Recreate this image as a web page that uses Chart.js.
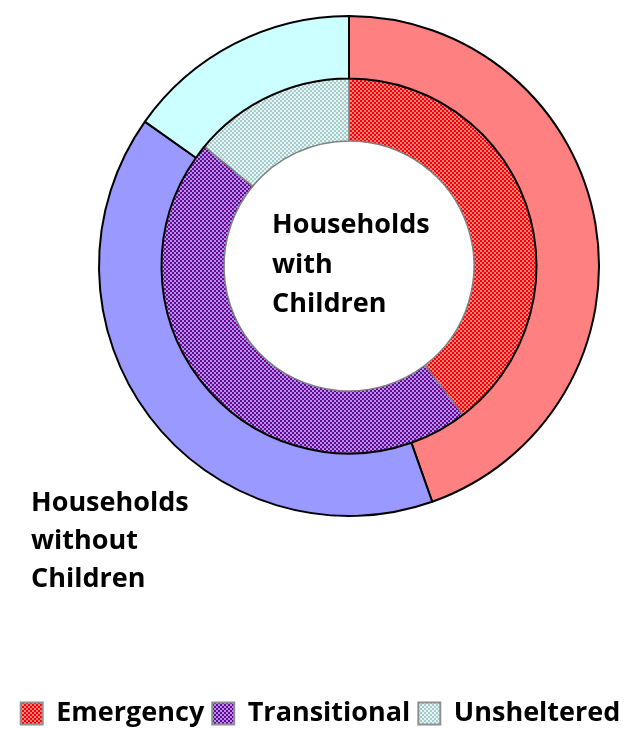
<!DOCTYPE html>
<html>
<head>
<meta charset="utf-8">
<script src="https://cdn.jsdelivr.net/npm/chart.js@4"></script>
<style>
  html, body { margin: 0; padding: 0; background: #fff; }
  #wrap { width: 641px; height: 729px; }
</style>
</head>
<body>
<div id="wrap"><canvas id="myDoughnut"></canvas></div>
<script>
// data (shares in %)
var categories = ["Emergency", "Transitional", "Unsheltered"];
var withoutChildren = [44.6, 40.2, 15.2];
var withChildren = [39.6, 46.4, 14.0];
var ringLabels = ["Households with Children", "Households without Children"];

// checker fill like the old office patterns
function checker(bg, fg) {
    var c = document.createElement('canvas');
    c.width = 4; c.height = 4;
    var g = c.getContext('2d');
    g.fillStyle = bg;
    g.fillRect(0, 0, 4, 4);
    g.fillStyle = fg;
    g.fillRect(0, 0, 2, 2);
    g.fillRect(2, 2, 2, 2);
    return g.createPattern(c, 'repeat');
}

var solidColors = ['#FF8080', '#9999FF', '#CCFFFF'];
var patternColors = [
    checker('#FF8080', '#FF0000'),
    checker('#9999FF', '#800080'),
    checker('#CCFFFF', '#C0C0C0')
];

// put the rings where they sit in the picture, legend keeps full width
var placeRings = {
    id: 'placeRings',
    afterLayout: function (chart) {
        var a = chart.chartArea;
        a.left = 98; a.right = 600;
        a.top = 15; a.bottom = 517;
        a.width = 502; a.height = 502;
        var lg = chart.legend;
        var shift = 729 - lg.bottom + 8;
        lg.top += shift; lg.bottom += shift;
    }
};

var ringText = {
    id: 'ringText',
    afterDraw: function (chart) {
        var ctx = chart.ctx;
        ctx.save();
        ctx.fillStyle = '#000';
        ctx.font = 'bold 27px "Open Sans"';
        ctx.textBaseline = 'alphabetic';
        ctx.textAlign = 'left';
        ["Households", "with", "Children"].forEach(function (t, i) {
            ctx.fillText(t, 272, 233 + i * 39.5);
        });
        ["Households", "without", "Children"].forEach(function (t, i) {
            ctx.fillText(t, 31, 511 + i * 38);
        });
        ctx.restore();
    }
};

var ctxD = document.getElementById("myDoughnut").getContext('2d');
var myDoughnut = new Chart(ctxD, {
    type: 'doughnut',
    data: {
        labels: categories,
        datasets: [{
            label: ringLabels[1],
            data: withoutChildren,
            backgroundColor: solidColors,
            borderColor: '#000',
            borderWidth: 2
        }, {
            label: ringLabels[0],
            data: withChildren,
            backgroundColor: patternColors,
            borderColor: '#808080',
            borderWidth: 1.5
        }]
    },
    options: {
        responsive: true,
        maintainAspectRatio: false,
        animation: false,
        cutout: '50%',
        plugins: {
            tooltip: { enabled: false },
            legend: {
                position: 'bottom',
                labels: {
                    color: '#000',
                    font: { family: 'Open Sans', size: 27, weight: 'bold' },
                    boxWidth: 22,
                    boxHeight: 22,
                    padding: 8,
                    generateLabels: function (chart) {
                        return categories.map(function (name, i) {
                            return {
                                text: name,
                                fillStyle: patternColors[i],
                                strokeStyle: '#909090',
                                lineWidth: 2,
                                index: i
                            };
                        });
                    }
                }
            }
        }
    },
    plugins: [placeRings, ringText]
});
</script>
</body>
</html>
